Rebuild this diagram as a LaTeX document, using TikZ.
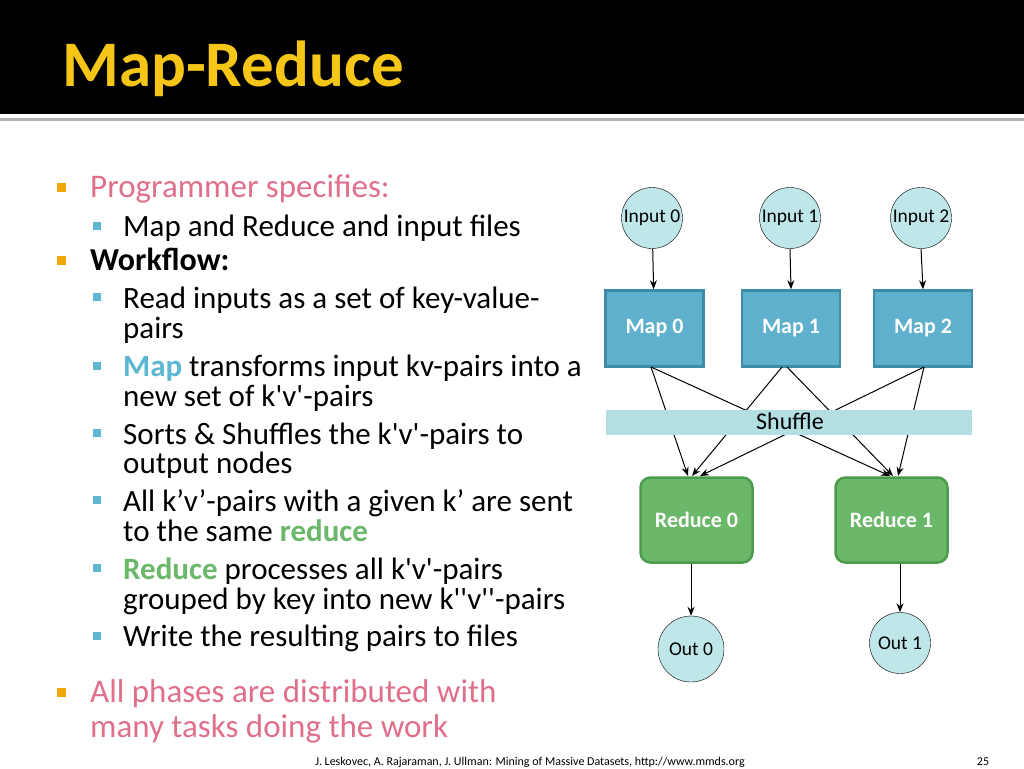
\documentclass[tikz,border=0pt]{standalone}
\usepackage{fontspec}
\setmainfont{Carlito}
\usetikzlibrary{arrows.meta}
\newcommand\qq{\textquotesingle}
\definecolor{pinkc}{HTML}{E0708A}
\definecolor{bulo}{HTML}{F0A800}
\definecolor{bulb}{HTML}{5BB8D0}
\definecolor{mapf}{HTML}{5FB0CC}
\definecolor{mapd}{HTML}{3C8CA8}
\definecolor{redf}{HTML}{6BB86B}
\definecolor{redd}{HTML}{4C9A4C}
\definecolor{circf}{HTML}{BFE6E8}
\definecolor{shuf}{HTML}{B3DEE2}
\definecolor{titley}{HTML}{F5C518}
\begin{document}
\begin{tikzpicture}[x=1pt,y=-1pt,
 txt/.style={anchor=base west,inner sep=0pt,font=\fontsize{31}{33}\selectfont},
 big/.style={anchor=base west,inner sep=0pt,font=\fontsize{33}{35}\selectfont},
 ob/.style={fill=bulo,minimum size=9pt,inner sep=0pt},
 bb/.style={fill=bulb,minimum size=8pt,inner sep=0pt},
 inc/.style={circle,draw=black,fill=circf,minimum size=61pt,inner sep=0pt,font=\fontsize{19.5}{20}\selectfont},
 mapb/.style={draw=mapd,line width=2.5pt,fill=mapf,minimum width=98pt,minimum height=76pt,font=\bfseries\fontsize{22}{24}\selectfont,text=white},
 redb/.style={draw=redd,line width=2.5pt,fill=redf,rounded corners=10pt,minimum width=112pt,minimum height=85pt,font=\bfseries\fontsize{22}{24}\selectfont,text=white},
 ar/.style={-{Stealth[length=9pt,width=7pt]},line width=1pt}]
\useasboundingbox (0,0) rectangle (1024,768);
\fill[white] (0,0) rectangle (1024,768);
\fill[black] (0,0) rectangle (1024,114);
\fill[gray!60] (0,118) rectangle (1024,121);
\node[anchor=base west,inner sep=0pt,text=titley,font=\bfseries\fontsize{65}{67}\selectfont] (title) at (62,86) {Map-Reduce};
% bullets
\node[ob] (b1) at (61,187) {}; \node[big,text=pinkc] (t1) at (90,197) {Programmer specifies:};
\node[bb] (s1) at (97,226) {}; \node[txt] (t2) at (123,236) {Map and Reduce and input files};
\node[ob] (b2) at (61,260) {}; \node[big,font=\bfseries\fontsize{32}{34}\selectfont] (t3) at (90,270) {Workflow:};
\node[bb] (s2) at (97,297) {}; \node[txt] (t4) at (123,308) {Read inputs as a set of key-value-};
\node[txt] (t5) at (123,338) {pairs};
\node[bb] (s3) at (97,366) {}; \node[txt] (t6) at (123,376) {\textcolor{bulb}{\bfseries Map} transforms input kv-pairs into a};
\node[txt] (t7) at (123,406) {new set of k\qq v\qq-pairs};
\node[bb] (s4) at (97,433) {}; \node[txt] (t8) at (123,444) {Sorts \& Shuffles the k\qq v\qq-pairs to};
\node[txt] (t9) at (123,473) {output nodes};
\node[bb] (s5) at (97,500) {}; \node[txt] (t10) at (123,511) {All k’v’-pairs with a given k’ are sent};
\node[txt] (t11) at (123,541) {to the same \textcolor{redf}{\bfseries reduce}};
\node[bb] (s6) at (97,568) {}; \node[txt] (t12) at (123,579) {\textcolor{redf}{\bfseries Reduce} processes all k\qq v\qq-pairs};
\node[txt] (t13) at (123,609) {grouped by key into new k\qq\qq v\qq\qq-pairs};
\node[bb] (s7) at (97,636) {}; \node[txt] (t14) at (123,646) {Write the resulting pairs to files};
\node[ob] (b3) at (61,692) {}; \node[big,text=pinkc] (t15) at (90,702) {All phases are distributed with};
\node[big,text=pinkc] (t16) at (90,737) {many tasks doing the work};
\node[anchor=base,inner sep=0pt,font=\fontsize{12}{13}\selectfont] (foot) at (530,765) {J. Leskovec, A. Rajaraman, J. Ullman: Mining of Massive Datasets, http://www.mmds.org};
\node[anchor=base,inner sep=0pt,font=\fontsize{12}{13}\selectfont] (pg) at (983,765) {25};
% diagram
\node[inc] (i0) at (652,218) {Input 0};
\node[inc] (i1) at (790,218) {Input 1};
\node[inc] (i2) at (921,218) {Input 2};
\node[mapb] (m0) at (654.5,328.5) {Map 0};
\node[mapb] (m1) at (791,328.5) {Map 1};
\node[mapb] (m2) at (923,328.5) {Map 2};
\node[redb] (r0) at (696.5,520) {Reduce 0};
\node[redb] (r1) at (891.5,520) {Reduce 1};
\node[inc,minimum size=66pt] (o0) at (691,649) {Out 0};
\node[inc] (o1) at (900,643) {Out 1};
\draw[ar] (i0) -- (m0);
\draw[ar] (i1.south) -- (m1.north);
\draw[ar] (i2.south) -- (m2.north);
\draw[ar] (r0.south -| o0) -- (o0);
\draw[ar] (r1.south -| o1) -- (o1);
\coordinate (m0a) at (651,367); \coordinate (m1a) at (782,367); \coordinate (m1b) at (787,367); \coordinate (m2a) at (924,367);
\coordinate (r0a) at (688,476); \coordinate (r0b) at (692,476); \coordinate (r0c) at (700,476);
\coordinate (r1a) at (890,476); \coordinate (r1b) at (893,476); \coordinate (r1c) at (898,476);
\draw[ar] (m0a) -- (r0a);
\draw[ar] (m0a) -- (r1a);
\draw[ar] (m1a) -- (r0b);
\draw[ar] (m1b) -- (r1b);
\draw[ar] (m2a) -- (r0c);
\draw[ar] (m2a) -- (r1c);
\node[fill=shuf,minimum width=366pt,minimum height=25pt,inner sep=0pt,anchor=north west] (sh) at (606,410) {};
\node[font=\fontsize{24}{26}\selectfont,inner sep=0pt] (shl) at (790,421) {Shuffle};
\end{tikzpicture}
\end{document}
